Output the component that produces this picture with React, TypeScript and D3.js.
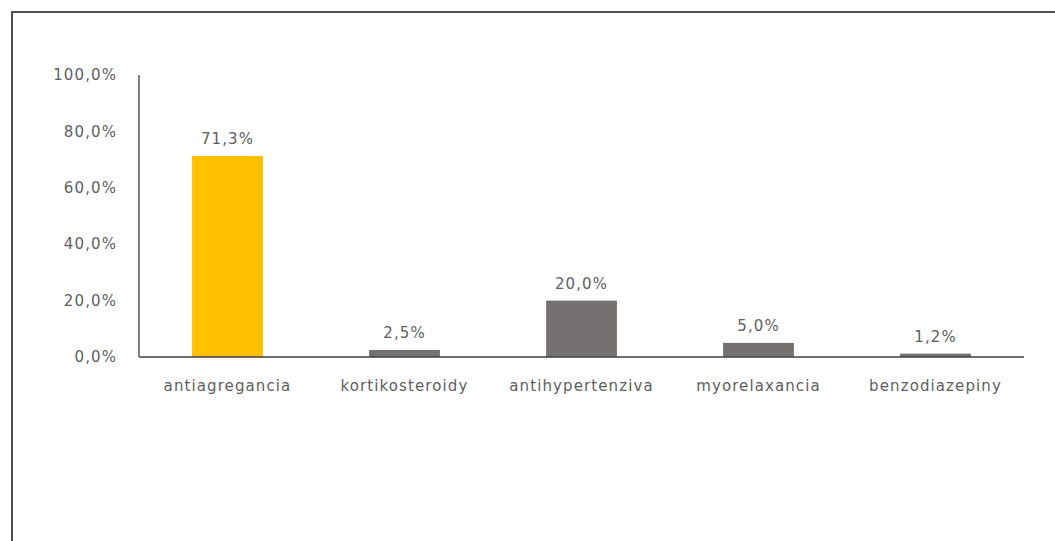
import React from "react";
import * as d3 from "d3";

const categories = ["antiagregancia", "kortikosteroidy", "antihypertenziva", "myorelaxancia", "benzodiazepiny"];
const values = [71.3, 2.5, 20.0, 5.0, 1.2];
const barColors = ["#FFC000", "#767171", "#767171", "#767171", "#767171"];
const yTicks = [0, 20, 40, 60, 80, 100];

const W = 1055;
const H = 541;
const fmt = (v: number) => v.toFixed(1).replace(".", ",") + "%";
const FONT = "'DejaVu Sans', sans-serif";
const FS = 15;
const LS = 1.1;
const TXT = "#606060";

export default function App() {
  const x = d3.scaleBand<string>().domain(categories).range([139, 1024]).paddingInner(0.6).paddingOuter(0.3);
  const y = d3.scaleLinear().domain([0, 100]).range([357, 75]);

  return (
    <svg width={W} height={H} style={{ position: "absolute", left: 0, top: 0, background: "#fff" }}>
      <rect x={12} y={12} width={W + 10} height={H + 10} fill="#fff" stroke="#505050" strokeWidth={2} />
      {yTicks.map((t) => (
        <text key={t} x={117} y={y(t)} dy="0.35em" textAnchor="end" fontFamily={FONT} fontSize={FS} letterSpacing={LS} fill={TXT}>
          {fmt(t)}
        </text>
      ))}
      {categories.map((c, i) => (
        <g key={c}>
          <rect x={x(c)!} y={y(values[i])} width={x.bandwidth()} height={y(0) - y(values[i])} fill={barColors[i]} />
          <text x={x(c)! + x.bandwidth() / 2} y={y(values[i]) - 17} dy="0.35em" textAnchor="middle" fontFamily={FONT} fontSize={FS} letterSpacing={LS} fill={TXT}>
            {fmt(values[i])}
          </text>
          <text x={x(c)! + x.bandwidth() / 2} y={386} dy="0.35em" textAnchor="middle" fontFamily={FONT} fontSize={FS} letterSpacing={LS} fill={TXT}>
            {c}
          </text>
        </g>
      ))}
      <line x1={139} x2={139} y1={75} y2={357} stroke="#595959" strokeWidth={1.5} />
      <line x1={139} x2={1024} y1={357} y2={357} stroke="#404040" strokeWidth={1.5} />
    </svg>
  );
}
